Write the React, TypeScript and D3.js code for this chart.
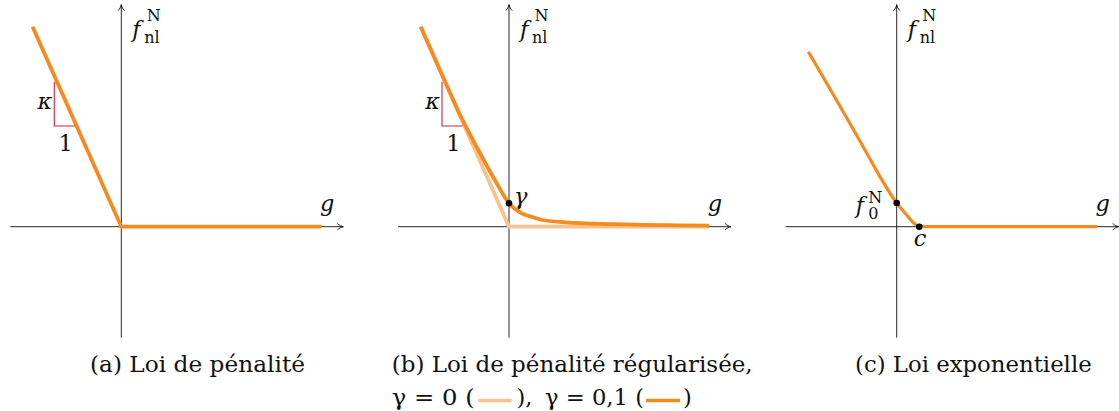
import React from "react";
import * as d3 from "d3";

// ---- data (in the figure's own units) ----
const penaltyG = [-8.87, 0, 20];
const penaltyF = [20, 0, 0];

const regLightG = [-8.83, 0, 20];
const regLightF = [20, 0, 0];
const regG = [-8.83, -6.5, -5.0, -3.07, -1.23, 0, 1.27, 2.4, 3.3, 5.6, 10.6, 20];
const regF = [20, 14.75, 11.4, 7.67, 4.34, 2.34, 1.34, 0.95, 0.67, 0.44, 0.25, 0.1];

const expG = [-8.84, -3.17, -1.67, 0, 1.0, 1.67, 2.25, 20];
const expF = [17.5, 7.67, 5.0, 2.37, 1.17, 0.4, 0, 0];

const slopeTriG = [-6.7, -6.7, -4.65];
const slopeTriF = [14.5, 10.07, 10.07];

const regDot = [0, 2.34];
const expDots = [
  [0, 2.37],
  [2.25, 0],
];

const captionA = "(a) Loi de pénalité";
const captionB1 = "(b) Loi de pénalité régularisée,";
const captionB2a = "γ = 0 (";
const captionB2b = "),";
const captionB2c = "γ = 0,1 (";
const captionB2d = ")";
const captionC = "(c) Loi exponentielle";

// ---- layout ----
const W = 1119;
const H = 411;
const OY = 226.7;
const ORIGINS = [121.3, 509, 896.7];
const AX_MIN = -11.1;
const AX_MAX = 22.2;
const PX = 10; // pixels per unit

const ORANGE = "#F58A1F";
const LIGHT = "#F9C28C";
const RED = "#D0243C";
const FONT = "DejaVu Serif";
const FS = 22.5;
const FSS = 16;

function makeScales(ox: number) {
  const x = d3.scaleLinear().domain([AX_MIN, AX_MAX]).range([ox + AX_MIN * PX, ox + AX_MAX * PX]);
  const y = d3.scaleLinear().domain([AX_MIN, AX_MAX]).range([OY - AX_MIN * PX, OY - AX_MAX * PX]);
  return { x, y };
}

type S = ReturnType<typeof makeScales>;

function Axes({ s }: { s: S }) {
  const x0 = s.x(AX_MIN), x1 = s.x(AX_MAX), ox = s.x(0);
  const y0 = s.y(AX_MIN), y1 = s.y(AX_MAX), oy = s.y(0);
  const hx = `M${x1 - 6},${oy - 3.3} C${x1 - 4},${oy - 1.2} ${x1 - 1.5},${oy - 0.3} ${x1},${oy} C${x1 - 1.5},${oy + 0.3} ${x1 - 4},${oy + 1.2} ${x1 - 6},${oy + 3.3}`;
  const hy = `M${ox - 3.3},${y1 + 6} C${ox - 1.2},${y1 + 4} ${ox - 0.3},${y1 + 1.5} ${ox},${y1} C${ox + 0.3},${y1 + 1.5} ${ox + 1.2},${y1 + 4} ${ox + 3.3},${y1 + 6}`;
  return (
    <g stroke="#000" strokeWidth={0.85} fill="none">
      <line x1={x0} y1={oy} x2={x1} y2={oy} />
      <line x1={ox} y1={y0} x2={ox} y2={y1} />
      <path d={hx} />
      <path d={hy} />
    </g>
  );
}

function AxisLabels({ s }: { s: S }) {
  return (
    <g fontFamily={FONT} fill="#111">
      <text x={s.x(1.1)} y={s.y(18.97)} fontSize={FS} fontStyle="italic">
        f
        <tspan x={s.x(2.55)} y={s.y(20.57)} fontSize={FSS} fontStyle="normal">N</tspan>
        <tspan x={s.x(2.3)} y={s.y(18.37)} fontSize={FSS} fontStyle="normal">nl</tspan>
      </text>
      <text x={s.x(20.6)} y={s.y(1.59)} fontSize={FS} fontStyle="italic" textAnchor="middle">g</text>
    </g>
  );
}

function SlopeTriangle({ s }: { s: S }) {
  const pts = slopeTriG.map((g, i) => [s.x(g), s.y(slopeTriF[i])] as [number, number]);
  const line = d3.line();
  return (
    <g>
      <path d={line(pts) || ""} stroke={RED} strokeWidth={1.1} fill="none" />
      <text x={s.x(-7.63)} y={s.y(11.8)} fontFamily={FONT} fontSize={FS} fontStyle="italic" textAnchor="middle" fill="#111">κ</text>
      <text x={s.x(-5.56)} y={s.y(7.57)} fontFamily={FONT} fontSize={FS} textAnchor="middle" fill="#111">1</text>
    </g>
  );
}

function curvePath(s: S, gs: number[], fs: number[], curve: d3.CurveFactory) {
  const gen = d3
    .line<number>()
    .x((g) => s.x(g))
    .y((_, i) => s.y(fs[i]))
    .curve(curve);
  return gen(gs) || "";
}

export default function App() {
  const sa = makeScales(ORIGINS[0]);
  const sb = makeScales(ORIGINS[1]);
  const sc = makeScales(ORIGINS[2]);
  const capY1 = 371.7;
  const capY2 = 404.8;
  const legY = 400.5;
  return (
    <svg
      width={W}
      height={H}
      viewBox={`0 0 ${W} ${H}`}
      style={{ position: "absolute", left: 0, top: 0, background: "#fff" }}
    >
      <rect width={W} height={H} fill="#fff" />
      {/* Panel (a) */}
      <Axes s={sa} />
      <path d={curvePath(sa, penaltyG, penaltyF, d3.curveLinear)} stroke={ORANGE} strokeWidth={3.8} fill="none" strokeLinejoin="round" />
      <SlopeTriangle s={sa} />
      <AxisLabels s={sa} />

      {/* Panel (b) */}
      <Axes s={sb} />
      <path d={curvePath(sb, regLightG, regLightF, d3.curveLinear)} stroke={LIGHT} strokeWidth={3.8} fill="none" strokeLinejoin="round" />
      <path d={curvePath(sb, regG, regF, d3.curveMonotoneX)} stroke={ORANGE} strokeWidth={3.8} fill="none" />
      <SlopeTriangle s={sb} />
      <AxisLabels s={sb} />
      <circle cx={sb.x(regDot[0])} cy={sb.y(regDot[1])} r={3.3} fill="#000" />
      <text x={sb.x(0.5)} y={sb.y(2.27)} fontFamily={FONT} fontSize={FS} fontStyle="italic" fill="#111">γ</text>

      {/* Panel (c) */}
      <Axes s={sc} />
      <path d={curvePath(sc, expG, expF, d3.curveMonotoneX)} stroke={ORANGE} strokeWidth={3.2} fill="none" />
      <AxisLabels s={sc} />
      {expDots.map((d, i) => (
        <circle key={i} cx={sc.x(d[0])} cy={sc.y(d[1])} r={3.3} fill="#000" />
      ))}
      <g fontFamily={FONT} fill="#111">
        <text x={sc.x(-4.1)} y={sc.y(1.37)} fontSize={FS} fontStyle="italic">
          f
          <tspan x={sc.x(-2.84)} y={sc.y(2.4)} fontSize={FSS} fontStyle="normal">N</tspan>
          <tspan x={sc.x(-2.84)} y={sc.y(0.74)} fontSize={FSS} fontStyle="normal">0</tspan>
        </text>
        <text x={sc.x(2.33)} y={sc.y(-1.93)} fontSize={FS} fontStyle="italic" textAnchor="middle">c</text>
      </g>

      {/* Captions */}
      <g fontFamily={FONT} fontSize={FS} fill="#111">
        <text x={90} y={capY1} textLength={215} lengthAdjust="spacingAndGlyphs">{captionA}</text>
        <text x={391.7} y={capY1} textLength={361} lengthAdjust="spacingAndGlyphs">{captionB1}</text>
        <text x={391.7} y={capY2} textLength={83} lengthAdjust="spacingAndGlyphs">{captionB2a}</text>
        <line x1={478.3} x2={511.7} y1={legY} y2={legY} stroke={LIGHT} strokeWidth={3.6} />
        <text x={516.5} y={capY2}>{captionB2b}</text>
        <text x={545} y={capY2} textLength={99} lengthAdjust="spacingAndGlyphs">{captionB2c}</text>
        <line x1={646} x2={680} y1={legY} y2={legY} stroke={ORANGE} strokeWidth={3.6} />
        <text x={683} y={capY2}>{captionB2d}</text>
        <text x={855} y={capY1} textLength={236.7} lengthAdjust="spacingAndGlyphs">{captionC}</text>
      </g>
    </svg>
  );
}
